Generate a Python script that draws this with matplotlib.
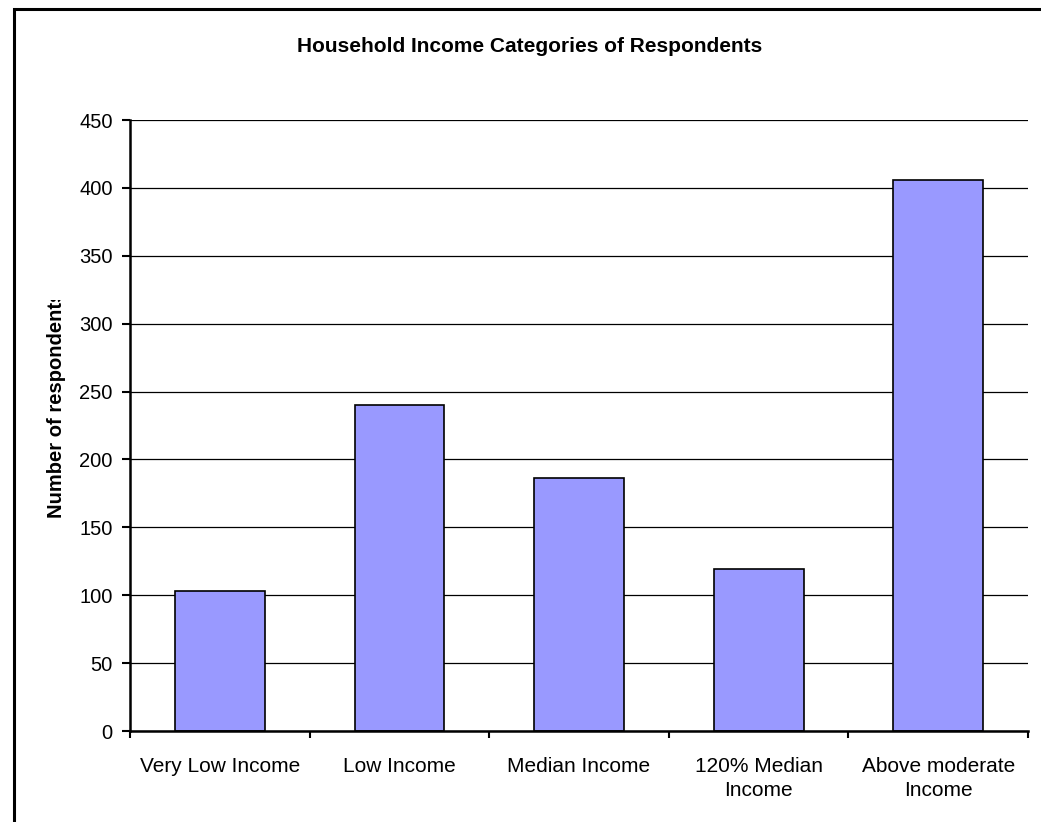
import matplotlib.pyplot as plt
from matplotlib.patches import Rectangle
from matplotlib.transforms import Bbox, TransformedBbox

plt.rcParams['font.family'] = ['Liberation Sans', 'DejaVu Sans']

categories = ['Very Low Income', 'Low Income', 'Median Income', '120% Median\nIncome', 'Above moderate\nIncome']
counts = [103, 240, 186, 119, 406]
y_ticks = [0, 50, 100, 150, 200, 250, 300, 350, 400, 450]

W, H = 1041, 822
fig = plt.figure(figsize=(W / 100, H / 100), dpi=100)
ax = fig.add_axes([130 / W, 1 - 731 / H, (1028 - 130) / W, (731 - 120) / H])

x = list(range(len(categories)))
ax.bar(x, counts, width=0.5, color='#9999FF', edgecolor='black', linewidth=1.2, zorder=3)

ax.set_xlim(-0.5, len(categories) - 0.5)
ax.set_ylim(0, 450)
ax.set_yticks(y_ticks)
ax.set_xticks(x)
ax.set_xticklabels(categories, fontsize=15, linespacing=1.3)
ax.set_xticks([i - 0.5 for i in range(len(categories) + 1)], minor=True)
ax.tick_params(axis='x', which='major', length=0, pad=19)
ax.tick_params(axis='x', which='minor', length=5, width=1.5, direction='out')
ax.tick_params(axis='y', length=6, width=1.5, pad=6.5, labelsize=14.5)

ax.grid(axis='y', color='black', linewidth=0.9, zorder=1)
ax.set_axisbelow(True)
for s in ['top', 'right']:
    ax.spines[s].set_visible(False)
for s in ['left', 'bottom']:
    ax.spines[s].set_linewidth(1.8)
    ax.spines[s].set_zorder(4)

fig.text(530 / W, 1 - 47 / H, 'Household Income Categories of Respondents',
         fontsize=15, fontweight='bold', ha='center', va='center')

lab = fig.text(57 / W, 1 - 404 / H, 'Number of respondents', rotation=90,
               fontsize=14.5, fontweight='bold', ha='center', va='center')
lab.set_clip_box(TransformedBbox(Bbox([[0, 0], [1, 1 - 300 / H]]), fig.transFigure))
lab.set_clip_on(True)

fig.patches.append(Rectangle((14 / W, -0.1), 1.2, 1 - 9 / H + 0.1, transform=fig.transFigure,
                             fill=False, edgecolor='black', linewidth=2.2, figure=fig))

fig.savefig('out.png', dpi=100)
